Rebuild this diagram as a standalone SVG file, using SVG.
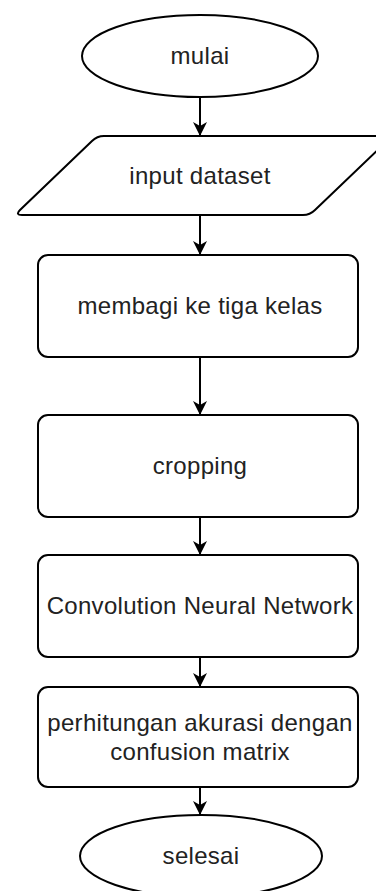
<svg xmlns="http://www.w3.org/2000/svg" width="376" height="891" viewBox="0 0 376 891">
<defs>
<style>
.n{fill:#fff;stroke:#000;stroke-width:2}
.t{font-family:"Liberation Sans",Arial,sans-serif;font-size:24px;fill:#222;text-anchor:middle;letter-spacing:0.3px}
.c{stroke:#000;stroke-width:2;fill:none}
</style>
<marker id="ah" viewBox="0 0 14 14" refX="13" refY="7" markerWidth="14" markerHeight="14" markerUnits="userSpaceOnUse" orient="auto">
<path d="M0,0 L14,7 L0,14 L4,7 Z" fill="#000"/>
</marker>
</defs>
<rect width="376" height="891" fill="#fff"/>
<g id="connectors">
<line class="c" x1="200" y1="97" x2="200" y2="135" marker-end="url(#ah)"/>
<line class="c" x1="200" y1="215" x2="200" y2="254" marker-end="url(#ah)"/>
<line class="c" x1="200" y1="357" x2="200" y2="414" marker-end="url(#ah)"/>
<line class="c" x1="200" y1="517" x2="200" y2="554" marker-end="url(#ah)"/>
<line class="c" x1="200" y1="657" x2="200" y2="686" marker-end="url(#ah)"/>
<line class="c" x1="200" y1="787" x2="200" y2="814" marker-end="url(#ah)"/>
</g>
<g id="mulai">
<ellipse class="n" cx="200" cy="56" rx="118" ry="41"/>
<text class="t" x="200" y="64">mulai</text>
</g>
<g id="input">
<path class="n" d="M104,136 L385,136 Q392,136 387,141 L315,210 Q310,215 303,215 L22,215 Q15,215 20,210 L92,141 Q97,136 104,136 Z"/>
<text class="t" x="200" y="184">input dataset</text>
</g>
<g id="membagi">
<rect class="n" x="38" y="255" width="320" height="102" rx="10"/>
<text class="t" x="200" y="314">membagi ke tiga kelas</text>
</g>
<g id="cropping">
<rect class="n" x="38" y="415" width="320" height="102" rx="10"/>
<text class="t" x="200" y="474">cropping</text>
</g>
<g id="cnn">
<rect class="n" x="38" y="555" width="320" height="102" rx="10"/>
<text class="t" x="200" y="614">Convolution Neural Network</text>
</g>
<g id="akurasi">
<rect class="n" x="38" y="687" width="320" height="100" rx="10"/>
<text class="t" x="200" y="731">perhitungan akurasi dengan</text>
<text class="t" x="200" y="760">confusion matrix</text>
</g>
<g id="selesai">
<ellipse class="n" cx="201" cy="856" rx="121" ry="41"/>
<text class="t" x="201" y="864">selesai</text>
</g>
</svg>
